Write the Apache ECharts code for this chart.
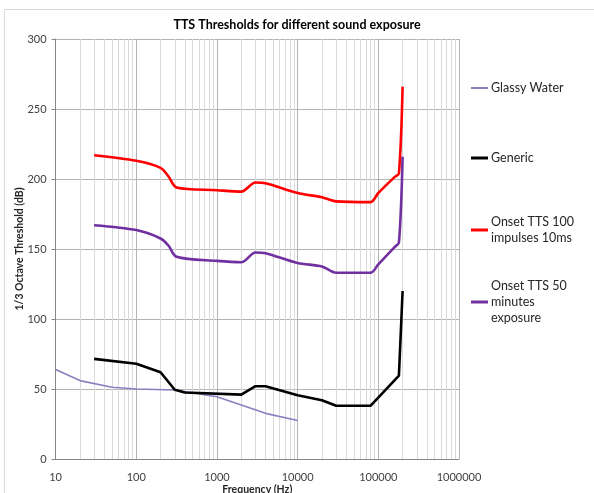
<!DOCTYPE html>
<html>
<head>
<meta charset="utf-8">
<script src="https://cdn.jsdelivr.net/npm/echarts@6/dist/echarts.min.js"></script>
<style>
html,body{margin:0;padding:0;background:#fff;}
#chart{width:594px;height:493px;}
</style>
</head>
<body>
<div id="chart"></div>
<script>
// ---- data ----
const seriesNames = ['Glassy Water', 'Generic', 'Onset TTS 100 impulses 10ms', 'Onset TTS 50 minutes exposure'];

const glassyFreq = [10, 20, 50, 100, 300, 1000, 4000, 10000];
const glassyVal  = [64, 56, 51.2, 50, 49.3, 44.5, 32.6, 27.5];

const genericFreq = [30, 100, 200, 300, 400, 2000, 3000, 4000, 10000, 20000, 30000, 80000, 180000, 200000];
const genericVal  = [71.5, 68, 62, 49.5, 47.5, 46, 52, 52, 45.5, 42, 38, 38, 59.5, 120];

const tts100Freq = [30, 100, 200, 250, 315, 1000, 2000, 3000, 4000, 10000, 20000, 30000, 80000, 100000, 160000, 180000, 200000];
const tts100Val  = [217, 213, 208, 202, 194, 192, 191, 197.5, 197, 190, 187, 184, 183.5, 190, 201.5, 204, 266];

const tts50Freq = [30, 100, 200, 250, 315, 1000, 2000, 3000, 4000, 10000, 20000, 30000, 80000, 100000, 160000, 180000, 200000];
const tts50Val  = [167, 163.5, 157.5, 152.5, 144.5, 141.5, 140.5, 147.5, 147, 140, 137.5, 133, 133, 139, 151.5, 154.5, 216];

const xTickLabels = ['10', '100', '1000', '10000', '100000', '1000000'];
const yTicks = [0, 50, 100, 150, 200, 250, 300];

// ---- build ----
function pairs(f, v) { return f.map((x, i) => [x, v[i]]); }

const minorLines = [];
for (let d = 10; d < 1000000; d *= 10) {
  for (let m = 2; m <= 9; m++) minorLines.push({ xAxis: d * m });
}

const font = 'Lato, "Open Sans", sans-serif';
const chart = echarts.init(document.getElementById('chart'), null, { renderer: 'canvas' });

function legendItem(name, top, text, pad) {
  return {
    data: [name],
    left: 471,
    top: top,
    orient: 'vertical',
    padding: 0,
    itemWidth: 17,
    itemHeight: name === 'Glassy Water' ? 2 : 3,
    icon: 'rect',
    selectedMode: false,
    formatter: () => text,
    textStyle: {
      fontFamily: font,
      fontSize: 12.5,
      color: '#262626',
      lineHeight: 16,
      padding: [pad, 0, 0, -2]
    }
  };
}

chart.setOption({
  animation: false,
  backgroundColor: '#fff',
  title: {
    text: 'TTS Thresholds for different sound exposure',
    left: 'center',
    top: 13,
    textStyle: { fontFamily: font, fontSize: 12.5, fontWeight: 'bold', color: '#000' }
  },
  graphic: [{
    type: 'rect',
    shape: { x: 4.5, y: 9.5, width: 700, height: 600 },
    style: { fill: 'none', stroke: '#d9d9d9', lineWidth: 1 },
    silent: true,
    z: -10
  }],
  legend: [
    legendItem(seriesNames[0], 80, 'Glassy Water', 0),
    legendItem(seriesNames[1], 150, 'Generic', 0),
    legendItem(seriesNames[2], 206, 'Onset TTS 100\nimpulses 10ms', 16),
    legendItem(seriesNames[3], 262, 'Onset TTS 50\nminutes\nexposure', 32)
  ],
  grid: { left: 55.6, right: 135, top: 39, bottom: 34, containLabel: false, outerBoundsMode: 'none' },
  xAxis: {
    type: 'log',
    logBase: 10,
    min: 10,
    max: 1000000,
    name: 'Frequency (Hz)',
    nameLocation: 'middle',
    nameGap: 25,
    nameMoveOverlap: false,
    nameTextStyle: { fontFamily: font, fontSize: 10.5, fontWeight: 'bold', color: '#262626' },
    axisLine: { show: true, lineStyle: { color: '#868686', width: 1 } },
    axisTick: { show: false },
    axisLabel: {
      fontFamily: font, fontSize: 11, color: '#404040', margin: 13,
      formatter: v => {
        const s = String(Math.round(v));
        return xTickLabels.indexOf(s) >= 0 ? s : '';
      }
    },
    splitLine: { show: true, lineStyle: { color: '#b4b4b4', width: 1 } }
  },
  yAxis: {
    type: 'value',
    min: 0,
    max: 300,
    interval: 50,
    name: '1/3 Octave Threshold (dB)',
    nameLocation: 'middle',
    nameGap: 30,
    nameMoveOverlap: false,
    nameTextStyle: { fontFamily: font, fontSize: 10.5, fontWeight: 'bold', color: '#262626' },
    axisLine: { show: true, lineStyle: { color: '#868686', width: 1 } },
    axisTick: { show: true, length: 4, lineStyle: { color: '#868686' } },
    axisLabel: {
      fontFamily: font, fontSize: 11, color: '#404040', margin: 9,
      formatter: v => (yTicks.indexOf(v) >= 0 ? String(v) : '')
    },
    splitLine: { show: true, lineStyle: { color: '#b4b4b4', width: 1 } }
  },
  series: [
    {
      name: '__grid',
      type: 'line',
      data: [],
      z: 1,
      silent: true,
      markLine: {
        z: 1,
        silent: true,
        symbol: ['none', 'none'],
        label: { show: false },
        lineStyle: { color: '#dadada', width: 1, type: 'solid' },
        emphasis: { disabled: true },
        data: minorLines
      }
    },
    {
      name: seriesNames[0], type: 'line', z: 3,
      data: pairs(glassyFreq, glassyVal),
      showSymbol: false, symbol: 'none',
      lineStyle: { color: '#8f7dc2', width: 1.6 },
      itemStyle: { color: '#8f7dc2' }
    },
    {
      name: seriesNames[1], type: 'line', z: 4,
      data: pairs(genericFreq, genericVal),
      showSymbol: false, symbol: 'none',
      lineStyle: { color: '#000000', width: 2.6 },
      itemStyle: { color: '#000000' }
    },
    {
      name: seriesNames[2], type: 'line', z: 5,
      data: pairs(tts100Freq, tts100Val),
      showSymbol: false, symbol: 'none',
      smooth: 0.3,
      lineStyle: { color: '#ff0000', width: 2.6 },
      itemStyle: { color: '#ff0000' }
    },
    {
      name: seriesNames[3], type: 'line', z: 5,
      data: pairs(tts50Freq, tts50Val),
      showSymbol: false, symbol: 'none',
      smooth: 0.3,
      lineStyle: { color: '#7030a0', width: 2.6 },
      itemStyle: { color: '#7030a0' }
    }
  ]
});
</script>
</body>
</html>
